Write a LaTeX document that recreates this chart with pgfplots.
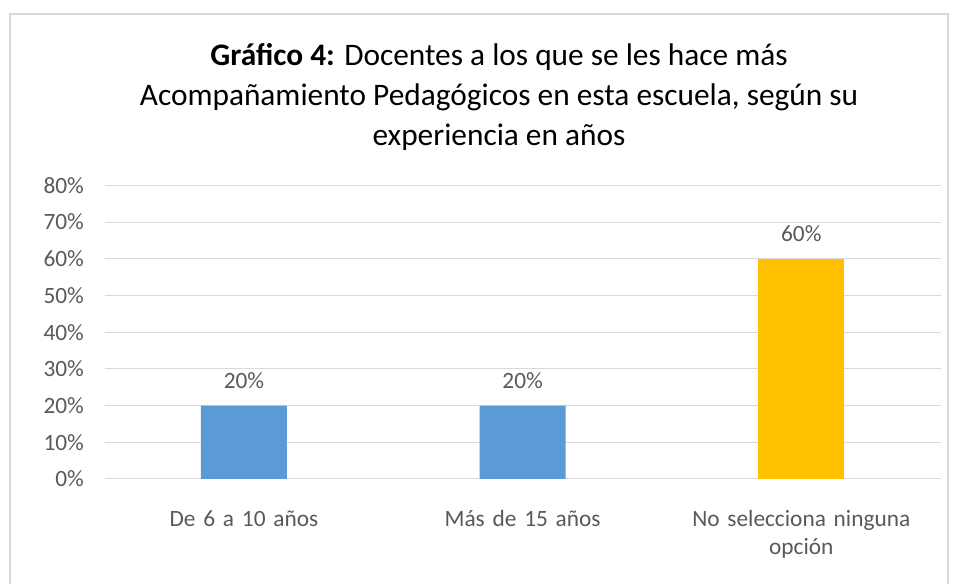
\documentclass[border=0pt]{standalone}
\usepackage{pgfplots}
\pgfplotsset{compat=1.18}
\usepackage{fontspec}
\setmainfont{Carlito}
\definecolor{txt}{HTML}{595959}
\definecolor{bblue}{HTML}{5B9BD5}
\definecolor{bgold}{HTML}{FFC000}
\definecolor{grd}{HTML}{D9D9D9}
\begin{document}
\begin{tikzpicture}
\useasboundingbox (0,0) rectangle (717pt,438pt);
\draw[grd, line width=1.5pt] (7.5pt,-10pt) -- (7.5pt,427.5pt) -- (711pt,427.5pt) -- (711pt,-10pt);
\node[align=center, font=\fontsize{23.5}{30}\selectfont, text=black] at (374.25pt,365.25pt)
  {\textbf{Gráfico 4:} Docentes a los que se les hace más\\Acompañamiento Pedagógicos en esta escuela, según su\\experiencia en años};
\begin{axis}[
  at={(78.45pt,78.75pt)}, anchor=south west,
  scale only axis, width=627pt, height=220.2pt,
  xmin=-0.5, xmax=2.5, ymin=0, ymax=80,
  ytick={0,10,...,80},
  yticklabel={\pgfmathprintnumber{\tick}\%},
  /pgf/number format/assume math mode=true,
  ymajorgrids, grid style={grd, line width=0.75pt},
  axis line style={draw=none},
  major tick length=0pt,
  xtick={0,1,2},
  xticklabels={De 6 a 10 años, Más de 15 años, No selecciona ninguna\\opción},
  xticklabel style={align=center, text width=220pt, font=\fontsize{17.5}{21}\selectfont, text=txt, yshift=-20pt},
  yticklabel style={font=\fontsize{17.5}{18}\selectfont, text=txt, xshift=-12pt},
  ybar, bar width=64.5pt, bar shift=0pt,
  nodes near coords={\pgfmathprintnumber{\pgfplotspointmeta}\%},
  nodes near coords style={font=\fontsize{17.5}{18}\selectfont, text=txt, yshift=9pt},
  clip=false,
]
\addplot[fill=bblue, draw=none] coordinates {(0,20) (1,20)};
\addplot[fill=bgold, draw=none] coordinates {(2,60)};
\end{axis}
\end{tikzpicture}
\end{document}
